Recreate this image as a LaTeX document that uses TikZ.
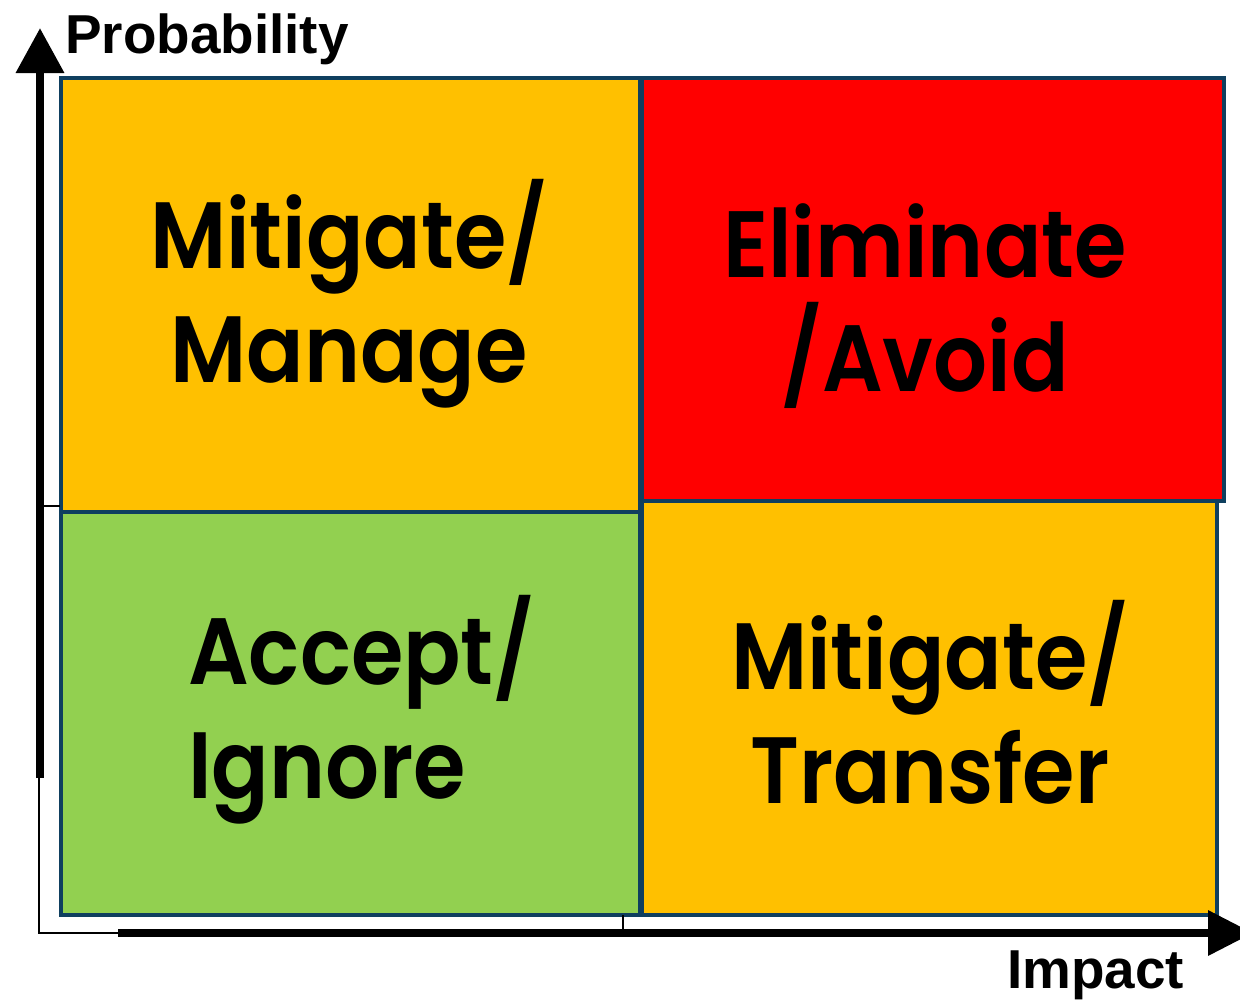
\documentclass[tikz,border=0pt]{standalone}
\usepackage{fontspec}
\usepackage{xcolor}
\usepackage{tikz}
\usetikzlibrary{arrows.meta}
\setmainfont{Liberation Sans}
\newfontfamily\quadfont{Poppins SemiBold}[FakeStretch=0.9]
\definecolor{amber}{HTML}{FFC000}
\definecolor{hot}{HTML}{FF0000}
\definecolor{leaf}{HTML}{92D050}
\definecolor{edge}{HTML}{0F3F5F}
\tikzset{
  cell/.style={draw=edge, line width=2.5pt, line join=miter},
  axis/.style={draw=black, line width=6.2pt},
  hair/.style={draw=black, line width=1.1pt},
  quad/.style={font=\quadfont\fontsize{67}{81}\selectfont, align=center, text=black, inner sep=0pt},
  axlab/.style={font=\bfseries\fontsize{39}{44}\selectfont, anchor=base west, inner sep=0pt},
}

\begin{document}
\begin{tikzpicture}[x=0.025cm, y=-0.025cm]
  \useasboundingbox (0,0) rectangle (1240,1002);
  % four quadrants
  \draw[cell, fill=amber] (61,78) rectangle (640,512);
  \draw[cell, fill=hot] (642,78) rectangle (1224,501);
  \draw[cell, fill=leaf] (61,512) rectangle (640,915);
  \draw[cell, fill=amber] (642,501) rectangle (1217,915);
  \node[quad] (manage) at (349,294) {Mitigate/\\Manage};
  \node[quad] (avoid) at (925,306) {Eliminate\\/Avoid};
  \node[quad, align=left, anchor=west] (ignore) at (188,710) {Accept/\\Ignore};
  \node[quad] (transfer) at (930,702) {Mitigate/\\Transfer};
  % axes
  \coordinate (corner) at (39,933);
  \draw[hair] (39,778) -- (corner) -- (118,933);
  \draw[hair] (44,506) -- (60,506);
  \draw[hair] (623,915) -- (623,933);
  \draw[axis, -{Triangle[length=32pt, width=33pt]}] (40,778) -- (40,28);
  \draw[axis, line width=5.7pt, -{Triangle[length=32pt, width=31pt]}] (118,933) -- (1253,933);
  \node[axlab] (prob) at (65,53) {Probability};
  \node[axlab] (impact) at (1007,988) {Impact};
\end{tikzpicture}
\end{document}
